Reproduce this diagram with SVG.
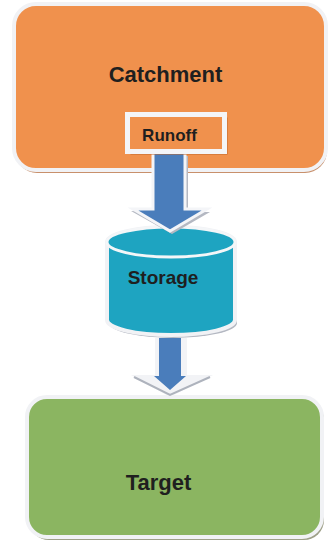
<svg xmlns="http://www.w3.org/2000/svg" width="328" height="544" viewBox="0 0 328 544">
<style>
.lbl{font-family:"Liberation Sans",Arial,sans-serif;font-weight:bold;fill:#1f1f1f;text-anchor:middle}
.wb{stroke:#f1f2f5;stroke-linejoin:round}
.arrow{fill:#4a7dbb;stroke:#f4f5f8;stroke-width:3;stroke-linejoin:miter}
.ashadow{fill:#b4b8c2}
</style>
<rect width="328" height="544" fill="#ffffff"/>
<g id="catchment">
  <rect x="15" y="7" width="312" height="166" rx="22" fill="#c8906c"/>
  <rect x="14" y="4" width="312" height="166" rx="22" fill="#f0914d" class="wb" stroke-width="4"/>
  <text x="165.5" y="82" class="lbl" font-size="22">Catchment</text>
</g>
<g id="storage">
  <path d="M109,245 A64,15 0 0 1 237,245 L237,323 A64,15 0 0 1 109,323 Z" fill="#b4b8c2"/>
  <path d="M107,242 A64,15 0 0 1 235,242 L235,320 A64,15 0 0 1 107,320 Z" fill="#1ea4c1" class="wb" stroke-width="4"/>
  <ellipse cx="171" cy="242" rx="64" ry="15" fill="#1ea4c1" stroke="#f4f6f8" stroke-width="3"/>
  <text x="163" y="284" class="lbl" font-size="19">Storage</text>
</g>
<g id="target">
  <rect x="29" y="400" width="295" height="140" rx="20" fill="#9ea089"/>
  <rect x="27" y="397" width="295" height="140" rx="20" fill="#8bb561" class="wb" stroke-width="4"/>
  <text x="158.5" y="490" class="lbl" font-size="22">Target</text>
</g>
<g id="connectors">
  <g id="runoff-to-storage">
    <polygon class="ashadow" points="156,156 188,156 188,212 210,212 172,234 131,211 155,212"/>
    <polygon class="arrow" points="153,152 185,152 185,209 207,209 170,231 133,209 153,209"/>
  </g>
  <g id="storage-to-target">
    <polygon fill="#f2f3f6" points="155,338 187,338 187,375 213,375 170,397 131,375 155,375"/>
    <polyline fill="none" stroke="#aeb3bd" stroke-width="2" points="134,377 170,395 210,377"/>
    <polygon fill="#4a7dbb" points="159,338 181,338 181,376 186,376 170,390 154,376 159,376"/>
  </g>
</g>
<g id="runoff">
  <rect x="130.5" y="117.5" width="97" height="37" fill="#c0682c"/>
  <rect x="127.5" y="114.5" width="97" height="37" fill="#f0914d" stroke="#f4f5f8" stroke-width="5"/>
  <text x="169.5" y="141" class="lbl" font-size="17">Runoff</text>
</g>
</svg>
